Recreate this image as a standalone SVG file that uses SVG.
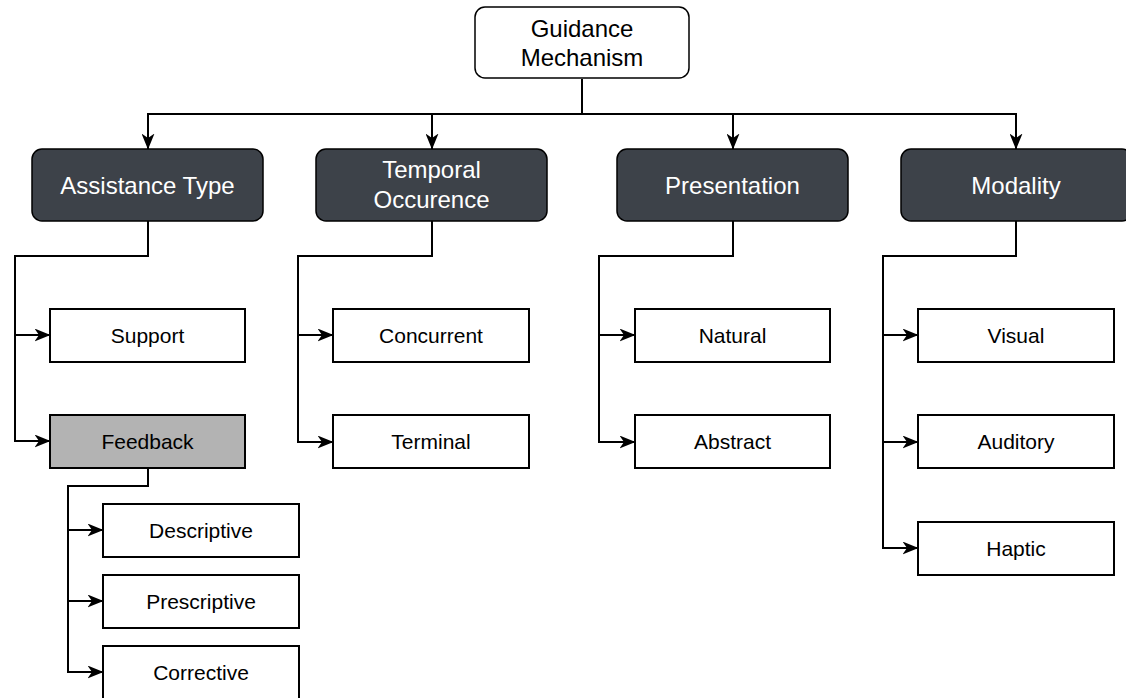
<svg xmlns="http://www.w3.org/2000/svg" width="1126" height="698" viewBox="0 0 1126 698">
<defs>
<marker id="arr" markerUnits="userSpaceOnUse" viewBox="0 0 16 13" markerWidth="16" markerHeight="13" refX="15.5" refY="6.5" orient="auto">
<path d="M0,0 L16,6.5 L0,13 L4.5,6.5 Z" fill="#000"/>
</marker>
<style>
.cat rect{fill:#3d4249;stroke:#000;stroke-width:1.5}
.cat text{fill:#fff;font-family:"Liberation Sans",Arial,sans-serif;font-size:24px;text-anchor:middle}
.leaf rect{fill:#fff;stroke:#000;stroke-width:2}
.leaf text{fill:#000;font-family:"Liberation Sans",Arial,sans-serif;font-size:21px;text-anchor:middle}
.root rect{fill:#fff;stroke:#000;stroke-width:1.5}
.root text{fill:#000;font-family:"Liberation Sans",Arial,sans-serif;font-size:24px;text-anchor:middle}
.conn path{fill:none;stroke:#000;stroke-width:2;marker-end:url(#arr)}
.conn path.plain{marker-end:none}
</style>
</defs>
<rect width="1126" height="698" fill="#fff"/>
<g id="connectors" class="conn">
<path class="plain" d="M582,79 V114"/>
<path d="M582,114 H148 V149"/>
<path d="M582,114 H432 V149"/>
<path d="M582,114 H733 V149"/>
<path d="M582,114 H1016 V149"/>
<path d="M148,221 V256 H15 V335 H50"/>
<path d="M15,335 V441 H50"/>
<path d="M148,468 V486 H68 V530 H103"/>
<path d="M68,530 V601 H103"/>
<path d="M68,601 V672 H103"/>
<path d="M432,221 V256 H298 V335 H333"/>
<path d="M298,335 V442 H333"/>
<path d="M733,221 V256 H599 V335 H635"/>
<path d="M599,335 V442 H635"/>
<path d="M1016,221 V256 H883 V335 H918"/>
<path d="M883,335 V442 H918"/>
<path d="M883,442 V548 H918"/>
</g>
<g id="root" class="root">
<rect x="475" y="7" width="214" height="71" rx="10"/>
<text x="582" y="37">Guidance</text>
<text x="582" y="66">Mechanism</text>
</g>
<g id="assistance" class="cat">
<rect x="32" y="149" width="231" height="72" rx="10"/>
<text x="147.5" y="193.5">Assistance Type</text>
</g>
<g id="temporal" class="cat">
<rect x="316" y="149" width="231" height="72" rx="10"/>
<text x="431.5" y="178">Temporal</text>
<text x="431.5" y="208">Occurence</text>
</g>
<g id="presentation" class="cat">
<rect x="617" y="149" width="231" height="72" rx="10"/>
<text x="732.5" y="193.5">Presentation</text>
</g>
<g id="modality" class="cat">
<rect x="901" y="149" width="231" height="72" rx="10"/>
<text x="1016" y="193.5">Modality</text>
</g>
<g id="support" class="leaf">
<rect x="50" y="309" width="195" height="53"/>
<text x="147.5" y="343">Support</text>
</g>
<g id="feedback" class="leaf">
<rect x="50" y="415" width="195" height="53" style="fill:#b3b3b3"/>
<text x="147.5" y="449">Feedback</text>
</g>
<g id="descriptive" class="leaf">
<rect x="103" y="504" width="196" height="53"/>
<text x="201" y="538">Descriptive</text>
</g>
<g id="prescriptive" class="leaf">
<rect x="103" y="575" width="196" height="53"/>
<text x="201" y="609">Prescriptive</text>
</g>
<g id="corrective" class="leaf">
<rect x="103" y="646" width="196" height="53"/>
<text x="201" y="680">Corrective</text>
</g>
<g id="concurrent" class="leaf">
<rect x="333" y="309" width="196" height="53"/>
<text x="431" y="343">Concurrent</text>
</g>
<g id="terminal" class="leaf">
<rect x="333" y="415" width="196" height="53"/>
<text x="431" y="449">Terminal</text>
</g>
<g id="natural" class="leaf">
<rect x="635" y="309" width="195" height="53"/>
<text x="732.5" y="343">Natural</text>
</g>
<g id="abstract" class="leaf">
<rect x="635" y="415" width="195" height="53"/>
<text x="732.5" y="449">Abstract</text>
</g>
<g id="visual" class="leaf">
<rect x="918" y="309" width="196" height="53"/>
<text x="1016" y="343">Visual</text>
</g>
<g id="auditory" class="leaf">
<rect x="918" y="415" width="196" height="53"/>
<text x="1016" y="449">Auditory</text>
</g>
<g id="haptic" class="leaf">
<rect x="918" y="522" width="196" height="53"/>
<text x="1016" y="556">Haptic</text>
</g>
</svg>
